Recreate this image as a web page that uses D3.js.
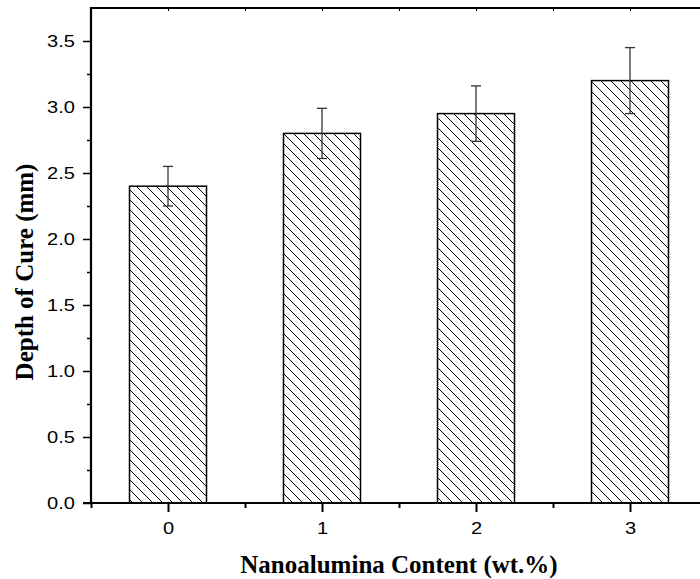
<!DOCTYPE html>
<html>
<head>
<meta charset="utf-8">
<script src="https://cdn.jsdelivr.net/npm/d3@7.9.0/dist/d3.min.js"></script>
<style>
  body { margin: 0; background: #fff; }
  svg { display: block; }
  .tick-label { font-family: Arial, "Liberation Sans", sans-serif; font-size: 17px; fill: #000; }
  .title { font-family: "Times New Roman", "Liberation Serif", serif; font-weight: bold; font-size: 25px; fill: #000; }
</style>
</head>
<body>
<svg id="chart" width="700" height="579"></svg>
<script>
// data
const contents = [0, 1, 2, 3];
const depth = [2.40, 2.80, 2.95, 3.20];
const errUpper = [2.55, 2.99, 3.16, 3.45];
const errLower = [2.25, 2.61, 2.74, 2.95];
const yTicks = [0, 0.5, 1.0, 1.5, 2.0, 2.5, 3.0, 3.5];

const svg = d3.select('#chart');
const plotLeft = 91, plotRight = 707, plotTop = 8, plotBottom = 503;

const x = d3.scaleLinear().domain([-0.5, 3.5]).range([plotLeft, plotRight]);
const y = d3.scaleLinear().domain([0, 3.75]).range([plotBottom, plotTop]);
const barW = x(0.5) - x(0);

// hatch pattern
const defs = svg.append('defs');
const pat = defs.append('pattern')
  .attr('id', 'hatch')
  .attr('patternUnits', 'userSpaceOnUse')
  .attr('width', 10).attr('height', 10);
pat.append('rect').attr('width', 10).attr('height', 10).attr('fill', '#fff');
pat.append('path')
  .attr('d', 'M-1,-1 L11,11 M-6,4 L6,16 M4,-6 L16,6')
  .attr('stroke', '#000').attr('stroke-width', 1);

// bars
svg.selectAll('rect.bar')
  .data(contents)
  .join('rect')
  .attr('class', 'bar')
  .attr('x', d => x(d) - barW / 2)
  .attr('y', (d, i) => y(depth[i]))
  .attr('width', barW)
  .attr('height', (d, i) => y(0) - y(depth[i]))
  .attr('fill', 'url(#hatch)')
  .attr('stroke', '#000')
  .attr('stroke-width', 1.5);

// error bars
const eb = svg.append('g').attr('stroke', '#333').attr('stroke-width', 1.3);
contents.forEach((c, i) => {
  eb.append('line').attr('x1', x(c)).attr('x2', x(c))
    .attr('y1', y(errUpper[i])).attr('y2', y(errLower[i]));
  [errUpper[i], errLower[i]].forEach(v => {
    eb.append('line').attr('x1', x(c) - 5).attr('x2', x(c) + 5)
      .attr('y1', y(v)).attr('y2', y(v));
  });
});

// the original tick labels look horizontally stretched
function stretch(sel) {
  sel.attr('class', 'tick-label').attr('font-size', null).attr('font-family', null)
    .each(function () {
      const w = this.getComputedTextLength();
      d3.select(this).attr('textLength', w * 1.18).attr('lengthAdjust', 'spacingAndGlyphs');
    });
}

// y axis
const yAxis = svg.append('g').attr('transform', `translate(${plotLeft},0)`)
  .call(d3.axisLeft(y).tickValues(yTicks).tickFormat(d3.format('.1f')).tickSize(8).tickPadding(8));
yAxis.select('.domain').remove();
yAxis.selectAll('.tick line').attr('stroke', '#000').attr('stroke-width', 1.5);
yAxis.selectAll('.tick text').call(stretch);
svg.append('g').attr('transform', `translate(${plotLeft},0)`)
  .call(d3.axisLeft(y).tickValues(d3.range(0.25, 3.75, 0.5)).tickFormat('').tickSize(4))
  .call(g => g.select('.domain').remove())
  .selectAll('.tick line').attr('stroke', '#000').attr('stroke-width', 1.5);

// x axis
const xAxis = svg.append('g').attr('transform', `translate(0,${plotBottom})`)
  .call(d3.axisBottom(x).tickValues(contents).tickFormat(d3.format('d')).tickSize(9).tickPadding(10));
xAxis.select('.domain').remove();
xAxis.selectAll('.tick line').attr('stroke', '#000').attr('stroke-width', 2);
xAxis.selectAll('.tick text').call(stretch);
svg.append('g').attr('transform', `translate(0,${plotBottom})`)
  .call(d3.axisBottom(x).tickValues([-0.5, 0.5, 1.5, 2.5]).tickFormat('').tickSize(5))
  .call(g => g.select('.domain').remove())
  .selectAll('.tick line').attr('stroke', '#000').attr('stroke-width', 2);

// top axis with small inward ticks
svg.append('g').attr('transform', `translate(0,${plotTop})`)
  .call(d3.axisBottom(x).tickValues([0.5, 0, 1, 1.5, 2, 2.5, 3]).tickFormat('').tickSize(3))
  .call(g => g.select('.domain').remove())
  .selectAll('.tick line').attr('stroke', '#000').attr('stroke-width', 1);

// frame lines
svg.append('line').attr('x1', plotLeft).attr('x2', 700).attr('y1', plotTop).attr('y2', plotTop)
  .attr('stroke', '#000').attr('stroke-width', 2.2);
svg.append('line').attr('x1', plotLeft).attr('x2', plotLeft).attr('y1', plotTop - 1).attr('y2', plotBottom + 1)
  .attr('stroke', '#000').attr('stroke-width', 2.2);
svg.append('line').attr('x1', plotLeft - 8).attr('x2', 700).attr('y1', plotBottom).attr('y2', plotBottom)
  .attr('stroke', '#000').attr('stroke-width', 2.2);

// titles
svg.append('text').attr('class', 'title')
  .attr('x', (plotLeft + plotRight) / 2).attr('y', 573)
  .attr('text-anchor', 'middle')
  .text('Nanoalumina Content (wt.%)');
svg.append('text').attr('class', 'title')
  .attr('transform', `translate(33,${y(1.75)}) rotate(-90)`)
  .attr('text-anchor', 'middle')
  .text('Depth of Cure (mm)');
</script>
</body>
</html>
